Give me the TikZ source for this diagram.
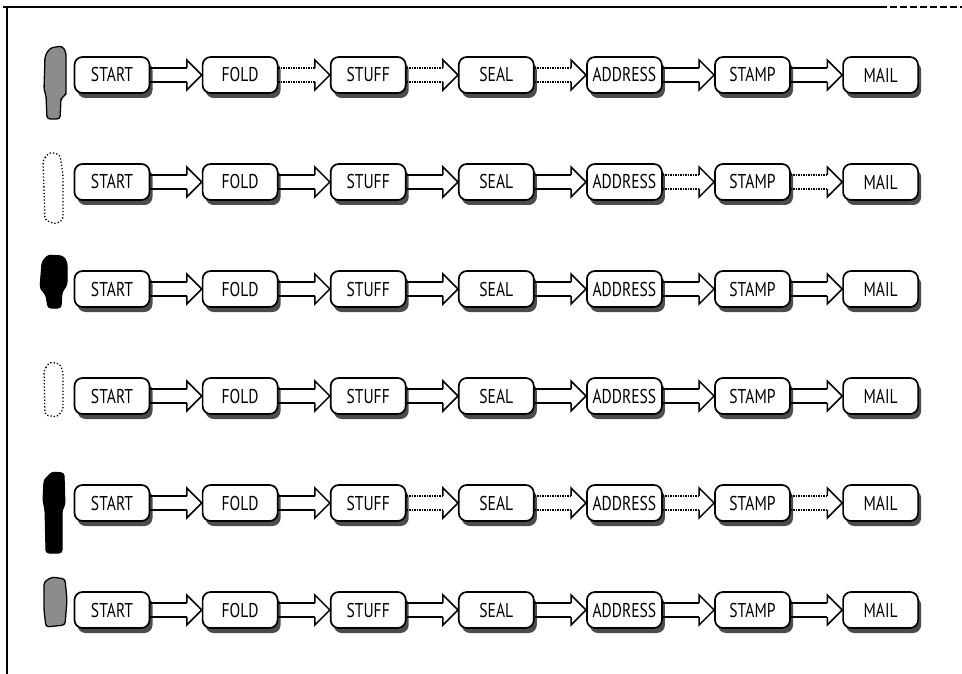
\documentclass[tikz,border=0pt]{standalone}
\usepackage{fontspec}
\newfontfamily\lbl[FakeStretch=0.78]{PT Sans}
\usetikzlibrary{calc,shadows}
\tikzset{
  stepbox/.style={draw=black, line width=1.7pt, rounded corners=8pt, fill=white,
    minimum width=75pt, minimum height=36pt, inner sep=1pt,
    font=\lbl\fontsize{20}{20}\selectfont,
    drop shadow={shadow xshift=3pt, shadow yshift=-5pt, fill=black!70, opacity=1}},
  arrowline/.style={draw=black, line width=1.5pt},
  framelinE/.style={draw=black, line width=1.5pt},
  cur/.style={solid},
  blobdark/.style={fill=black, draw=black, line width=1pt, rounded corners=3pt},
  blobgray/.style={fill=black!45, draw=black, line width=1.3pt, rounded corners=3pt},
  blobdot/.style={draw=black, line width=1.3pt, dotted, rounded corners=3pt}
}
\newcommand\blkarrow[2]{%
  \draw[arrowline,cur] ($(#1.east)+(0,-7)$) -- ($(#2.west)+(-15,-7)$);
  \draw[arrowline,cur] ($(#1.east)+(0,7)$) -- ($(#2.west)+(-15,7)$);
  \draw[arrowline,line join=miter] ($(#2.west)+(-15,-7)$) -- ($(#2.west)+(-15,-15)$)
     -- (#2.west) -- ($(#2.west)+(-15,15)$) -- ($(#2.west)+(-15,7)$);
}
\expandafter\def\csname dotA1-2\endcsname{}
\expandafter\def\csname dotA1-3\endcsname{}
\expandafter\def\csname dotA1-4\endcsname{}
\expandafter\def\csname dotA2-5\endcsname{}
\expandafter\def\csname dotA2-6\endcsname{}
\expandafter\def\csname dotA5-3\endcsname{}
\expandafter\def\csname dotA5-4\endcsname{}
\expandafter\def\csname dotA5-5\endcsname{}
\expandafter\def\csname dotA5-6\endcsname{}
\begin{document}
\begin{tikzpicture}[x=1pt,y=-1pt]
\useasboundingbox (0,0) rectangle (962,674);
% frame
\draw[framelinE] (3,7) -- (880,7);
\draw[framelinE,dash pattern=on 7pt off 3pt] (880,7) -- (962,7);
\draw[framelinE] (7,7) -- (7,674);
% nodes
\foreach \r in {1,...,6}{
  \foreach \t [count=\i] in {START,FOLD,STUFF,SEAL,ADDRESS,STAMP,MAIL}{
    \node[stepbox] (n\r-\i) at ({112+128.1*(\i-1)},{75+107*(\r-1)}) {\t};
  }
}
% arrows
\foreach \r in {1,...,6}{
  \foreach \i [evaluate=\i as \j using int(\i+1)] in {1,...,6}{
    \ifcsname dotA\r-\i\endcsname\tikzset{cur/.style={densely dotted}}\else\tikzset{cur/.style={solid}}\fi
    \blkarrow{n\r-\i}{n\r-\j}
  }
}
% left marks
\draw[blobgray] (45,56) -- (50,48) -- (62,46) -- (66,52) -- (66,95) -- (61,98) -- (60,119) -- (47,119) -- (46,95) -- (44,90) -- cycle;
\draw[blobdot] (43,160) -- (50,152) -- (60,155) -- (63,175) -- (63,220) -- (55,224) -- (45,220) -- cycle;
\draw[blobdark] (42,262) -- (48,255) -- (63,256) -- (67,262) -- (67,285) -- (62,292) -- (61,308) -- (48,308) -- (46,295) -- (40,288) -- cycle;
\draw[blobdot] (44,370) -- (50,362) -- (60,364) -- (63,372) -- (63,410) -- (57,417) -- (45,415) -- cycle;
\draw[blobdark] (44,480) -- (52,472) -- (64,473) -- (65,505) -- (62,510) -- (62,553) -- (46,553) -- (45,510) -- (43,500) -- cycle;
\draw[blobgray] (44,582) -- (52,577) -- (65,579) -- (67,600) -- (65,625) -- (46,627) -- (44,610) -- cycle;
\end{tikzpicture}
\end{document}
